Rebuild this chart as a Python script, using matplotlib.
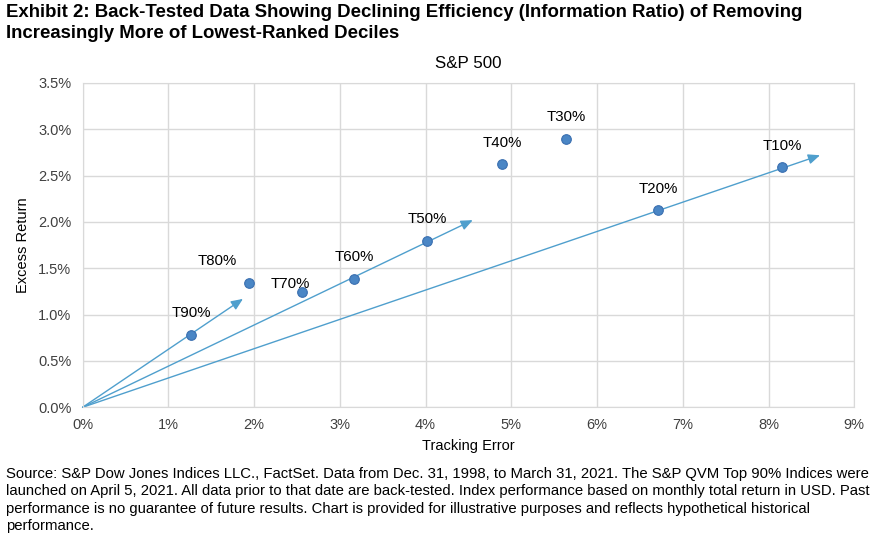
import matplotlib
matplotlib.use("Agg")
import matplotlib.pyplot as plt
from matplotlib.ticker import FuncFormatter

plt.rcParams['font.family'] = ['Liberation Sans', 'DejaVu Sans']

labels = ["T90%", "T80%", "T70%", "T60%", "T50%", "T40%", "T30%", "T20%", "T10%"]
tracking_error = [1.27, 1.94, 2.56, 3.17, 4.02, 4.89, 5.64, 6.71, 8.16]
excess_return = [0.78, 1.34, 1.24, 1.38, 1.79, 2.63, 2.90, 2.13, 2.59]
arrow_x = [1.87, 4.55, 8.60]
arrow_y = [1.17, 2.02, 2.72]

# label offsets in pixels (dx, dy)
label_offsets = [(0, 22), (-32, 22), (-12, 8), (0, 22), (0, 22), (0, 21), (0, 22), (0, 21), (0, 21)]

fig = plt.figure(figsize=(8.77, 5.43), dpi=100)
ax = fig.add_axes([82.6/877, 1-407.3/543, (854.3-82.6)/877, (407.3-83)/543])

grid_c = "#d9d9d9"
ax.set_xlim(0, 9)
ax.set_ylim(0, 3.5)
ax.set_xticks(range(0, 10))
ax.set_yticks([i*0.5 for i in range(8)])
ax.xaxis.set_major_formatter(FuncFormatter(lambda v, p: f"{v:.0f}%"))
ax.yaxis.set_major_formatter(FuncFormatter(lambda v, p: f"{v:.1f}%"))
ax.grid(True, color=grid_c, linewidth=1)
ax.set_axisbelow(True)
for s in ax.spines.values():
    s.set_color(grid_c)
ax.tick_params(length=0, labelsize=10.5, colors="#404040", pad=8)

arrow_c = "#4f9fcd"
for xe, ye in zip(arrow_x, arrow_y):
    ax.annotate("", xy=(xe, ye), xytext=(0, 0),
                arrowprops=dict(arrowstyle="-|>,head_length=0.7,head_width=0.3",
                                color=arrow_c, lw=1.0, shrinkA=0, shrinkB=0),
                zorder=2)

ax.scatter(tracking_error, excess_return, s=48, color="#4a86c5", edgecolor="#3a6fb0",
           linewidth=0.8, zorder=3)

for lab, x, y, (dx, dy) in zip(labels, tracking_error, excess_return, label_offsets):
    ax.annotate(lab, xy=(x, y), xytext=(dx, dy), textcoords="offset pixels",
                ha="center", va="center", fontsize=10.8, color="#000000", zorder=4)

ax.set_xlabel("Tracking Error", fontsize=10.5, color="#000000", labelpad=5)
ax.set_ylabel("Excess Return", fontsize=10.5, color="#000000", labelpad=6)
ax.set_title("S&P 500", fontsize=12.2, color="#000000", pad=11)

fig.text(6/877, 1-4/543, "Exhibit 2: Back-Tested Data Showing Declining Efficiency (Information Ratio) of Removing\nIncreasingly More of Lowest-Ranked Deciles",
         fontsize=13.4, fontweight="bold", ha="left", va="top", linespacing=1.3)

foot = ("Source: S&P Dow Jones Indices LLC., FactSet. Data from Dec. 31, 1998, to March 31, 2021. The S&P QVM Top 90% Indices were\n"
        "launched on April 5, 2021. All data prior to that date are back-tested. Index performance based on monthly total return in USD. Past\n"
        "performance is no guarantee of future results. Chart is provided for illustrative purposes and reflects hypothetical historical\n"
        "performance.")
fig.text(6/877, 1-467/543, foot, fontsize=10.7, ha="left", va="top", linespacing=1.3)

fig.savefig("out.png", dpi=100)
